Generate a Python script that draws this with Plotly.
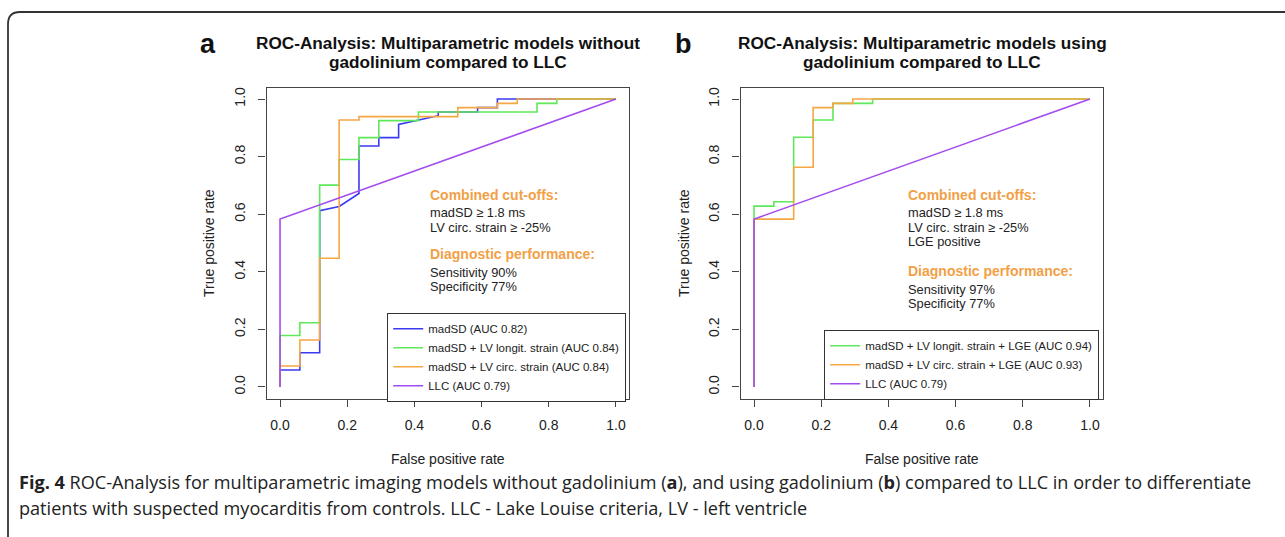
import plotly.graph_objects as go

W, H = 1285, 537

# ---------------- data ----------------
# Panel a
a_madsd_fpr = [0, 0, 0.059, 0.059, 0.118, 0.118, 0.176, 0.235, 0.235, 0.294, 0.294, 0.353, 0.353, 0.471, 0.471, 0.588, 0.588, 0.647, 0.647, 1.0]
a_madsd_tpr = [0, 0.059, 0.059, 0.119, 0.119, 0.612, 0.627, 0.672, 0.837, 0.837, 0.866, 0.866, 0.912, 0.942, 0.955, 0.955, 0.970, 0.970, 1.0, 1.0]

a_longit_fpr = [0, 0, 0.059, 0.059, 0.118, 0.118, 0.176, 0.176, 0.235, 0.235, 0.294, 0.294, 0.412, 0.412, 0.765, 0.765, 0.824, 0.824, 1.0]
a_longit_tpr = [0, 0.179, 0.179, 0.223, 0.223, 0.701, 0.701, 0.790, 0.790, 0.866, 0.866, 0.925, 0.925, 0.955, 0.955, 0.985, 0.985, 1.0, 1.0]

a_circ_fpr = [0, 0, 0.059, 0.059, 0.118, 0.118, 0.176, 0.176, 0.235, 0.235, 0.529, 0.529, 0.647, 0.647, 0.706, 0.706, 1.0]
a_circ_tpr = [0, 0.073, 0.073, 0.163, 0.163, 0.447, 0.447, 0.927, 0.927, 0.939, 0.939, 0.970, 0.970, 0.985, 0.985, 1.0, 1.0]

llc_fpr = [0, 0, 1.0]
llc_tpr = [0, 0.583, 1.0]

# Panel b
b_longit_fpr = [0, 0, 0.059, 0.059, 0.118, 0.118, 0.176, 0.176, 0.235, 0.235, 0.353, 0.353, 1.0]
b_longit_tpr = [0, 0.628, 0.628, 0.643, 0.643, 0.867, 0.867, 0.927, 0.927, 0.985, 0.985, 1.0, 1.0]

b_circ_fpr = [0, 0, 0.118, 0.118, 0.176, 0.176, 0.235, 0.235, 0.294, 0.294, 1.0]
b_circ_tpr = [0, 0.583, 0.583, 0.763, 0.763, 0.970, 0.970, 0.985, 0.985, 1.0, 1.0]

a_names = ["madSD (AUC 0.82)", "madSD + LV longit. strain (AUC 0.84)",
           "madSD + LV circ. strain (AUC 0.84)", "LLC (AUC 0.79)"]
b_names = ["madSD + LV longit. strain + LGE (AUC 0.94)",
           "madSD + LV circ. strain + LGE (AUC 0.93)", "LLC (AUC 0.79)"]

tick_vals = [0.0, 0.2, 0.4, 0.6, 0.8, 1.0]
tick_text = ["0.0", "0.2", "0.4", "0.6", "0.8", "1.0"]

a_title = ["ROC-Analysis: Multiparametric models without", "gadolinium compared to LLC"]
b_title = ["ROC-Analysis: Multiparametric models using", "gadolinium compared to LLC"]

a_cutoffs = ["madSD \u2265 1.8 ms", "LV circ. strain \u2265 -25%"]
a_perf = ["Sensitivity 90%", "Specificity 77%"]
b_cutoffs = ["madSD \u2265 1.8 ms", "LV circ. strain \u2265 -25%", "LGE positive"]
b_perf = ["Sensitivity 97%", "Specificity 77%"]

caption1 = ("<b>Fig. 4</b> ROC-Analysis for multiparametric imaging models without gadolinium (<b>a</b>), "
            "and using gadolinium (<b>b</b>) compared to LLC in order to differentiate")
caption2 = "patients with suspected myocarditis from controls. LLC - Lake Louise criteria, LV - left ventricle"

# ---------------- styles ----------------
BLUE = "#3a3af2"
GREEN = "#5fe85a"
ORANGE = "#f5a744"
PURPLE = "#a44cee"
TXT_ORANGE = "#f2a046"
AXC = "#444444"
FONT = "Liberation Sans, Arial, sans-serif"


def px(x):
    return x / W


def py(y):
    return 1 - y / H


fig = go.Figure()

lw = 1.6
traces_a = [
    (a_madsd_fpr, a_madsd_tpr, BLUE, a_names[0]),
    (a_longit_fpr, a_longit_tpr, GREEN, a_names[1]),
    (a_circ_fpr, a_circ_tpr, ORANGE, a_names[2]),
    (llc_fpr, llc_tpr, PURPLE, a_names[3]),
]
for xs, ys, c, n in traces_a:
    fig.add_trace(go.Scatter(x=xs, y=ys, mode="lines", line=dict(color=c, width=lw),
                             name=n, xaxis="x", yaxis="y", legend="legend"))

traces_b = [
    (b_longit_fpr, b_longit_tpr, GREEN, b_names[0]),
    (b_circ_fpr, b_circ_tpr, ORANGE, b_names[1]),
    (llc_fpr, llc_tpr, PURPLE, b_names[2]),
]
for xs, ys, c, n in traces_b:
    fig.add_trace(go.Scatter(x=xs, y=ys, mode="lines", line=dict(color=c, width=lw),
                             name=n, xaxis="x2", yaxis="y2", legend="legend2"))

# plot boxes in pixels
A_L, A_R = 266.6, 629.4
B_L, B_R = 740.6, 1103.4
TOP, BOT = 87.5, 398.5

axis_common = dict(
    range=[-0.04, 1.04], tickvals=tick_vals, ticktext=tick_text,
    ticks="outside", ticklen=7, tickwidth=1.2, tickcolor=AXC,
    showline=True, mirror=True, linecolor=AXC, linewidth=1.3,
    showgrid=False, zeroline=False,
    tickfont=dict(family=FONT, size=14, color="#222222"),
)

fig.update_layout(
    width=W, height=H,
    margin=dict(l=0, r=0, t=0, b=0),
    paper_bgcolor="white", plot_bgcolor="white",
    xaxis=dict(domain=[px(A_L), px(A_R)], anchor="y", ticklabelstandoff=7, **axis_common),
    yaxis=dict(domain=[py(BOT), py(TOP)], anchor="x", tickangle=-90, ticklabelstandoff=8, **axis_common),
    xaxis2=dict(domain=[px(B_L), px(B_R)], anchor="y2", ticklabelstandoff=7, **axis_common),
    yaxis2=dict(domain=[py(BOT), py(TOP)], anchor="x2", tickangle=-90, ticklabelstandoff=8, **axis_common),
    legend=dict(x=px(387), y=py(313), xanchor="left", yanchor="top",
                bordercolor="#333333", borderwidth=1.2, bgcolor="white",
                font=dict(family=FONT, size=11.5, color="#222222"),
                tracegroupgap=0),
    legend2=dict(x=px(824), y=py(330), xanchor="left", yanchor="top",
                 bordercolor="#333333", borderwidth=1.2, bgcolor="white",
                 font=dict(family=FONT, size=11.5, color="#222222"),
                 tracegroupgap=0),
    showlegend=True,
)

ann = []


def text(x, y, s, size, color="#222222", bold=False, xanchor="left", angle=0, family=FONT):
    ann.append(dict(x=px(x), y=py(y), xref="paper", yref="paper", text=(f"<b>{s}</b>" if bold else s),
                    showarrow=False, xanchor=xanchor, yanchor="middle", textangle=angle,
                    font=dict(family=family, size=size, color=color)))


# titles and panel letters
for cx, lines, letter, lx in [((A_L + A_R) / 2, a_title, "a", 208), ((B_L + B_R) / 2, b_title, "b", 683)]:
    text(cx, 43, lines[0], 17.2, bold=True, xanchor="center", color="#111111")
    text(cx, 62, lines[1], 17.2, bold=True, xanchor="center", color="#111111")
    text(lx, 44, letter, 27, bold=True, xanchor="center", color="#111111")
    text(cx, 459, "False positive rate", 14, xanchor="center")
    text(lx + 1, (TOP + BOT) / 2, "True positive rate", 14, xanchor="center", angle=-90)

# panel a annotations
ax0 = 428.3
text(ax0, 195, "Combined cut-offs:", 14, color=TXT_ORANGE, bold=True)
text(ax0, 213, a_cutoffs[0], 12.8)
text(ax0, 227, a_cutoffs[1], 12.8)
text(ax0, 254, "Diagnostic performance:", 14, color=TXT_ORANGE, bold=True)
text(ax0, 272.5, a_perf[0], 12.8)
text(ax0, 286.7, a_perf[1], 12.8)

# panel b annotations
bx0 = 905.7
text(bx0, 195, "Combined cut-offs:", 14, color=TXT_ORANGE, bold=True)
text(bx0, 213, b_cutoffs[0], 12.8)
text(bx0, 227, b_cutoffs[1], 12.8)
text(bx0, 241, b_cutoffs[2], 12.8)
text(bx0, 270.5, "Diagnostic performance:", 14, color=TXT_ORANGE, bold=True)
text(bx0, 289, b_perf[0], 12.8)
text(bx0, 303.3, b_perf[1], 12.8)

# caption
text(17, 482, caption1, 18.1, family="Open Sans, sans-serif", color="#222222")
text(17, 508, caption2, 18.1, family="Open Sans, sans-serif", color="#222222")

fig.update_layout(annotations=ann)

# frame with rounded top-left corner
r = 12
path = (f"M {px(8)},{py(560)} L {px(8)},{py(12 + r)} "
        f"Q {px(8)},{py(12)} {px(8 + r)},{py(12)} L {px(1300)},{py(12)}")
fig.add_shape(type="path", path=path, xref="paper", yref="paper",
              line=dict(color="#333333", width=1.8))

fig.write_html("out.html")
